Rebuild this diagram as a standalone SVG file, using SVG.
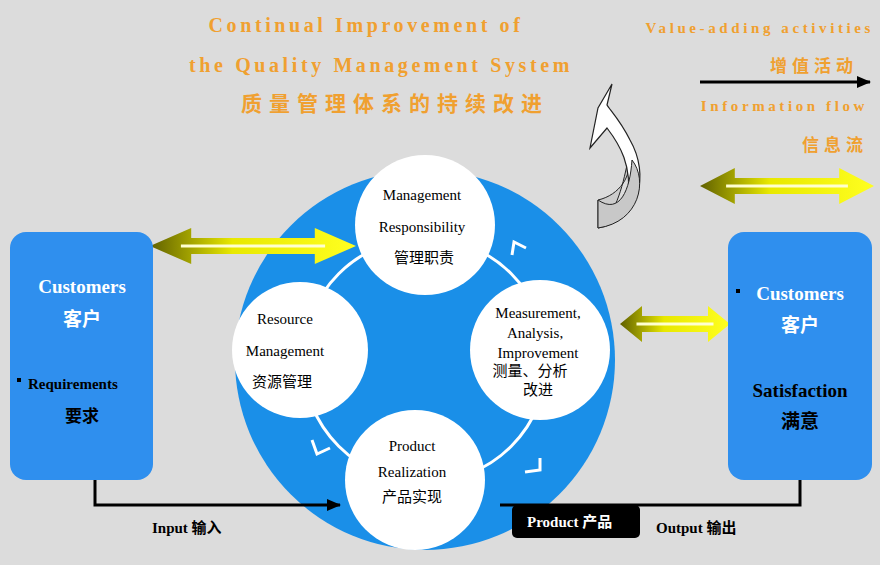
<svg xmlns="http://www.w3.org/2000/svg" width="880" height="565" viewBox="0 0 880 565">
<defs>
<style>
.t{font-family:"Liberation Serif",serif;font-weight:bold;fill:#f0a030;letter-spacing:3.6px}
.c{font-family:"Noto Sans CJK SC",sans-serif;font-weight:bold;fill:#f0a030}
.n{font-family:"Liberation Serif","Noto Sans CJK SC",serif;font-size:15px;fill:#000;text-anchor:middle}
.b{font-family:"Liberation Serif","Noto Sans CJK SC",serif;font-weight:bold;fill:#fff;text-anchor:middle;font-size:19px}
.k{font-family:"Liberation Serif","Noto Sans CJK SC",serif;font-weight:bold;fill:#000}
.ring{fill:none;stroke:#fff;stroke-width:3}
</style>
<linearGradient id="yg" x1="0" y1="0" x2="1" y2="0"><stop offset="0" stop-color="#606000"/><stop offset="0.4" stop-color="#e8e800"/><stop offset="1" stop-color="#ffff20"/></linearGradient>
<marker id="ah" markerUnits="userSpaceOnUse" markerWidth="14" markerHeight="12" refX="13" refY="6" orient="auto"><path d="M0,0L14,6L0,12z" fill="#000"/></marker>
<g id="dbl"><path d="M0,18 L40,0 L40,10 L160,10 L160,0 L200,18 L160,36 L160,26 L40,26 L40,36z" fill="url(#yg)"/><path d="M30,18 L170,18" stroke="#ffffd0" stroke-width="3"/></g>
</defs>
<rect width="880" height="565" fill="#dcdcdc"/>
<g id="title">
<text class="t" x="366" y="32" font-size="20" text-anchor="middle">Continual Improvement of</text>
<text class="t" x="381" y="72" font-size="20" text-anchor="middle">the Quality Management System</text>
<text class="c" x="395" y="111" font-size="21" text-anchor="middle" letter-spacing="7">质量管理体系的持续改进</text>
</g>
<g id="legend">
<text class="t" x="874" y="33" font-size="15" text-anchor="end">Value-adding activities</text>
<text class="c" x="858" y="72" font-size="17" text-anchor="end" letter-spacing="5">增值活动</text>
<line x1="700" y1="82" x2="870" y2="82" stroke="#000" stroke-width="3" marker-end="url(#ah)"/>
<text class="t" x="868" y="111" font-size="15" text-anchor="end">Information flow</text>
<text class="c" x="868" y="151" font-size="17" text-anchor="end" letter-spacing="5">信息流</text>
<use href="#dbl" transform="translate(700,168) scale(0.87,1)"/>
</g>
<g id="curl">
<path d="M598,228 L598,200 C620,195 632,175 628,160 C622,190 615,215 598,228z" fill="#ccc" stroke="#222"/>
<path d="M598,228 C640,220 650,175 630,140 C620,120 610,110 607,105 L612,84 L598,108 L590,148 L607,128 C620,145 632,165 628,200 C625,215 610,225 598,228z" fill="#fff" stroke="#222" stroke-width="1.2"/>
<path d="M598,228 C640,222 648,180 632,160 C630,190 620,215 598,200z" fill="#c8c8c8" stroke="#222"/>
</g>
<circle cx="425" cy="360" r="190" fill="#1a8fe8"/>
<g id="connectors">
<circle class="ring" cx="425" cy="360" r="122"/>
<path d="M512,255 L514,242 L526,248 M312,440 L317,454 L330,448 M525,472 L540,470 L540,458" class="ring"/>
<polyline points="95,480 95,505 340,505" fill="none" stroke="#000" stroke-width="3" marker-end="url(#ah)"/>
<polyline points="500,505 800,505 800,480" fill="none" stroke="#000" stroke-width="3"/>
<use href="#dbl" transform="translate(150,228) scale(1.03,1)"/>
<use href="#dbl" transform="translate(620,306) scale(0.55,1)"/>
</g>
<g id="mgmt"><circle cx="425" cy="225" r="70" fill="#fff"/><text class="n" x="422" y="200">Management</text><text class="n" x="422" y="232">Responsibility</text><text class="n" x="424" y="263">管理职责</text></g>
<g id="res"><circle cx="300" cy="350" r="68" fill="#fff"/><text class="n" x="285" y="324">Resource</text><text class="n" x="285" y="356">Management</text><text class="n" x="282" y="387">资源管理</text></g>
<g id="meas"><circle cx="540" cy="350" r="70" fill="#fff"/><text class="n" x="538" y="318">Measurement,</text><text class="n" x="535" y="338">Analysis,</text><text class="n" x="538" y="358">Improvement</text><text class="n" x="530" y="376">测量、分析</text><text class="n" x="538" y="395">改进</text></g>
<g id="prod"><circle cx="415" cy="480" r="70" fill="#fff"/><text class="n" x="412" y="451">Product</text><text class="n" x="412" y="477">Realization</text><text class="n" x="412" y="502">产品实现</text></g>
<g id="cust"><rect x="10" y="232" width="143" height="248" rx="16" fill="#2f8fee"/><text class="b" x="82" y="293">Customers</text><text class="b" x="82" y="326" font-weight="normal">客户</text><rect x="17" y="378" width="4" height="4" fill="#000"/><text class="k" x="28" y="389" font-size="15">Requirements</text><text class="k" x="82" y="422" text-anchor="middle" font-weight="normal" font-size="17">要求</text></g>
<g id="sat"><rect x="728" y="232" width="144" height="248" rx="16" fill="#2f8fee"/><rect x="736" y="289" width="4" height="4" fill="#000"/><text class="b" x="800" y="300">Customers</text><text class="b" x="800" y="332" font-weight="normal">客户</text><text class="k" x="800" y="397" text-anchor="middle" font-size="19">Satisfaction</text><text class="k" x="800" y="428" text-anchor="middle" font-size="19" font-weight="normal">满意</text></g>
<g id="input"><text class="k" x="152" y="533" font-size="15">Input  输入</text></g>
<g id="product"><rect x="512" y="505" width="128" height="33" rx="5" fill="#000"/><text class="k" x="527" y="527" font-size="15" style="fill:#fff">Product  产品</text></g>
<g id="output"><text class="k" x="656" y="533" font-size="15">Output 输出</text></g>
</svg>
